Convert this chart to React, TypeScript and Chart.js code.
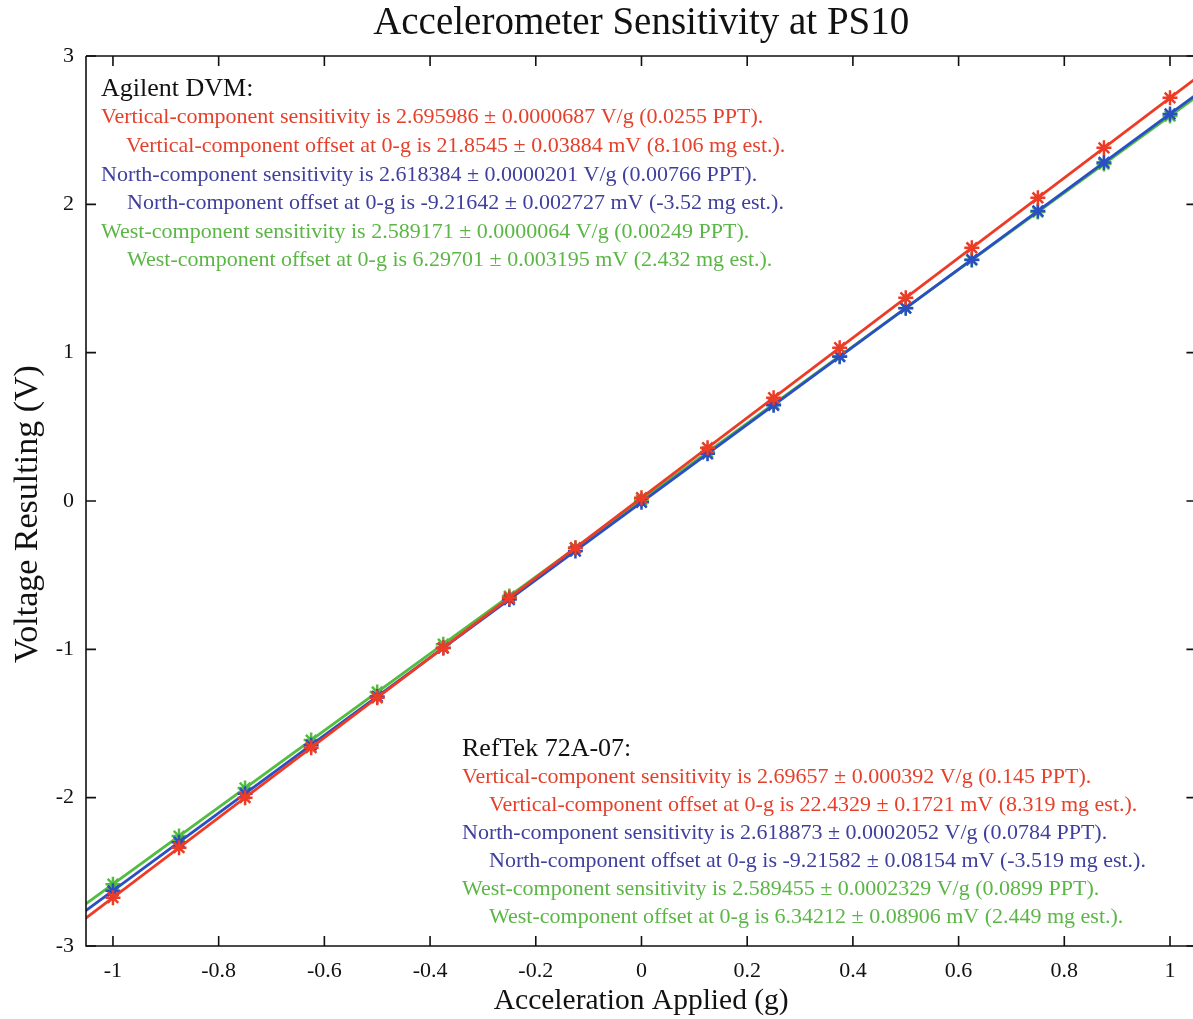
import React, { useEffect, useRef } from "react";
import { Chart, registerables } from "chart.js";

Chart.register(...registerables);

// Applied acceleration steps (g)
const accel = [-1, -0.875, -0.75, -0.625, -0.5, -0.375, -0.25, -0.125, 0, 0.125, 0.25, 0.375, 0.5, 0.625, 0.75, 0.875, 1];

// Measured output voltages (V)
const verticalV = [-2.674, -2.337, -2.0, -1.663, -1.326, -0.989, -0.652, -0.315, 0.022, 0.359, 0.696, 1.033, 1.37, 1.707, 2.044, 2.381, 2.718];
const northV = [-2.628, -2.3, -1.973, -1.646, -1.318, -0.991, -0.664, -0.337, -0.009, 0.318, 0.645, 0.973, 1.3, 1.627, 1.955, 2.282, 2.609];
const westV = [-2.583, -2.259, -1.935, -1.612, -1.288, -0.965, -0.641, -0.317, 0.006, 0.33, 0.654, 0.977, 1.301, 1.624, 1.948, 2.272, 2.595];

// Fit parameters: sensitivity (V/g) and offset at 0-g (V)
const verticalFit = [2.695986, 0.0218545];
const northFit = [2.618384, -0.00921642];
const westFit = [2.589171, 0.00629701];
const fitRange = [-1.06, 1.06];

const xTicks = [-1, -0.8, -0.6, -0.4, -0.2, 0, 0.2, 0.4, 0.6, 0.8, 1];
const yTicks = [-3, -2, -1, 0, 1, 2, 3];

const TITLE = "Accelerometer Sensitivity at PS10";
const X_TITLE = "Acceleration Applied (g)";
const Y_TITLE = "Voltage Resulting (V)";

const RED = "#ee3b26";
const BLUE = "#2a4fc4";
const GREEN = "#52bd3e";
const RED_TXT = "#e5402b";
const BLUE_TXT = "#3f3f9e";
const GREEN_TXT = "#5bb646";

const agilentNotes: [string, string, number][] = [
  ["Agilent DVM:", "#111", 0],
  ["Vertical-component sensitivity is 2.695986 \u00b1 0.0000687 V/g (0.0255 PPT).", RED_TXT, 0],
  ["Vertical-component offset at 0-g is 21.8545 \u00b1 0.03884 mV (8.106 mg est.).", RED_TXT, 25],
  ["North-component sensitivity is 2.618384 \u00b1 0.0000201 V/g (0.00766 PPT).", BLUE_TXT, 0],
  ["North-component offset at 0-g is -9.21642 \u00b1 0.002727 mV (-3.52 mg est.).", BLUE_TXT, 26],
  ["West-component sensitivity is 2.589171 \u00b1 0.0000064 V/g (0.00249 PPT).", GREEN_TXT, 0],
  ["West-component offset at 0-g is 6.29701 \u00b1 0.003195 mV (2.432 mg est.).", GREEN_TXT, 26],
];

const reftekNotes: [string, string, number][] = [
  ["RefTek 72A-07:", "#111", 0],
  ["Vertical-component sensitivity is 2.69657 \u00b1 0.000392 V/g (0.145 PPT).", RED_TXT, 0],
  ["Vertical-component offset at 0-g is 22.4329 \u00b1 0.1721 mV (8.319 mg est.).", RED_TXT, 27],
  ["North-component sensitivity is 2.618873 \u00b1 0.0002052 V/g (0.0784 PPT).", BLUE_TXT, 0],
  ["North-component offset at 0-g is -9.21582 \u00b1 0.08154 mV (-3.519 mg est.).", BLUE_TXT, 27],
  ["West-component sensitivity is 2.589455 \u00b1 0.0002329 V/g (0.0899 PPT).", GREEN_TXT, 0],
  ["West-component offset at 0-g is 6.34212 \u00b1 0.08906 mV (2.449 mg est.).", GREEN_TXT, 27],
];

const SERIF = "'Liberation Serif', 'DejaVu Serif', serif";

function fitLine(p: number[]) {
  return fitRange.map((x) => ({ x, y: p[0] * x + p[1] }));
}

function points(ys: number[]) {
  return accel.map((x, i) => ({ x, y: ys[i] }));
}

// Frame, inward ticks, titles and the two text blocks
const framePlugin = {
  id: "frame",
  afterDraw(chart: any) {
    const { ctx, chartArea: a, scales } = chart;
    const xs = scales.x;
    const ys = scales.y;
    ctx.save();
    ctx.strokeStyle = "#111";
    ctx.lineWidth = 1.6;
    ctx.beginPath();
    ctx.moveTo(a.left, a.top);
    ctx.lineTo(a.right + 5, a.top);
    ctx.moveTo(a.left, a.top);
    ctx.lineTo(a.left, a.bottom);
    ctx.lineTo(a.right + 5, a.bottom);
    ctx.stroke();
    const tl = 10;
    ctx.beginPath();
    xTicks.forEach((v) => {
      const px = xs.getPixelForValue(v);
      ctx.moveTo(px, a.bottom);
      ctx.lineTo(px, a.bottom - tl);
      ctx.moveTo(px, a.top);
      ctx.lineTo(px, a.top + tl);
    });
    const rx = xs.getPixelForValue(1.05);
    yTicks.forEach((v) => {
      const py = ys.getPixelForValue(v);
      ctx.moveTo(a.left, py);
      ctx.lineTo(a.left + tl, py);
      ctx.moveTo(rx, py);
      ctx.lineTo(rx - tl, py);
    });
    ctx.stroke();

    // Titles
    const cx = (a.left + rx) / 2;
    ctx.fillStyle = "#111";
    ctx.textAlign = "center";
    ctx.textBaseline = "middle";
    ctx.font = `39px ${SERIF}`;
    ctx.fillText(TITLE, cx, 24);
    ctx.font = `29.5px ${SERIF}`;
    ctx.fillText(X_TITLE, cx, 1001);
    ctx.save();
    ctx.translate(28, 514);
    ctx.rotate(-Math.PI / 2);
    ctx.font = `34px ${SERIF}`;
    ctx.fillText(Y_TITLE, 0, 0);
    ctx.restore();

    ctx.textAlign = "left";
    const drawBlock = (notes: [string, string, number][], x0: number, y0: number, step: number) => {
      notes.forEach(([t, c, ind], i) => {
        ctx.fillStyle = c;
        ctx.font = i === 0 ? `26px ${SERIF}` : `22px ${SERIF}`;
        ctx.fillText(t, x0 + ind, y0 + i * step);
      });
    };
    drawBlock(agilentNotes, 101, 89, 28.6);
    drawBlock(reftekNotes, 462, 749, 28);
    ctx.restore();
  },
};

export default function App() {
  const ref = useRef<HTMLCanvasElement | null>(null);

  useEffect(() => {
    if (!ref.current) return;
    const mk = (label: string, ys: number[], color: string) => ({
      label,
      data: points(ys),
      showLine: false,
      pointStyle: "star",
      pointRadius: 7.5,
      pointBorderWidth: 2.5,
      borderColor: color,
      backgroundColor: color,
    });
    const fit = (label: string, p: number[], color: string) => ({
      label,
      data: fitLine(p),
      showLine: true,
      pointRadius: 0,
      borderWidth: 2.8,
      borderColor: color,
      backgroundColor: color,
    });
    const chart = new Chart(ref.current, {
      type: "scatter",
      data: {
        datasets: [
          mk("Vertical", verticalV, RED),
          fit("Vertical fit", verticalFit, RED),
          mk("North", northV, BLUE),
          fit("North fit", northFit, BLUE),
          mk("West", westV, GREEN),
          fit("West fit", westFit, GREEN),
        ] as any,
      },
      options: {
        animation: false,
        responsive: false,
        layout: { autoPadding: false, padding: { top: 56, right: 0, left: 0, bottom: 0 } },
        plugins: {
          legend: { display: false },
          tooltip: { enabled: false },
          title: { display: false },
        },
        scales: {
          x: {
            type: "linear",
            min: -1.051,
            max: 1.0435,
            grid: { display: false, drawTicks: false },
            border: { display: false },
            afterBuildTicks: (axis: any) => {
              axis.ticks = xTicks.map((value) => ({ value }));
            },
            afterFit: (axis: any) => {
              axis.height = 73;
              axis.paddingLeft = 0;
              axis.paddingRight = 0;
            },
            ticks: {
              color: "#111",
              padding: 12,
              maxRotation: 0,
              font: { family: SERIF, size: 22 },
              callback: (v: any) => String(v),
            },
          },
          y: {
            type: "linear",
            min: -3,
            max: 3,
            grid: { display: false, drawTicks: false },
            border: { display: false },
            afterBuildTicks: (axis: any) => {
              axis.ticks = yTicks.map((value) => ({ value }));
            },
            afterFit: (axis: any) => {
              axis.width = 86;
              axis.paddingTop = 0;
              axis.paddingBottom = 0;
            },
            ticks: {
              color: "#111",
              padding: 12,
              font: { family: SERIF, size: 22 },
              callback: (v: any) => String(v),
            },
          },
        },
      },
      plugins: [framePlugin],
    } as any);
    return () => chart.destroy();
  }, []);

  return (
    <div style={{ position: "absolute", left: 0, top: 0, width: 1193, height: 1019, background: "#fff" }}>
      <canvas ref={ref} width={1193} height={1019} />
    </div>
  );
}
